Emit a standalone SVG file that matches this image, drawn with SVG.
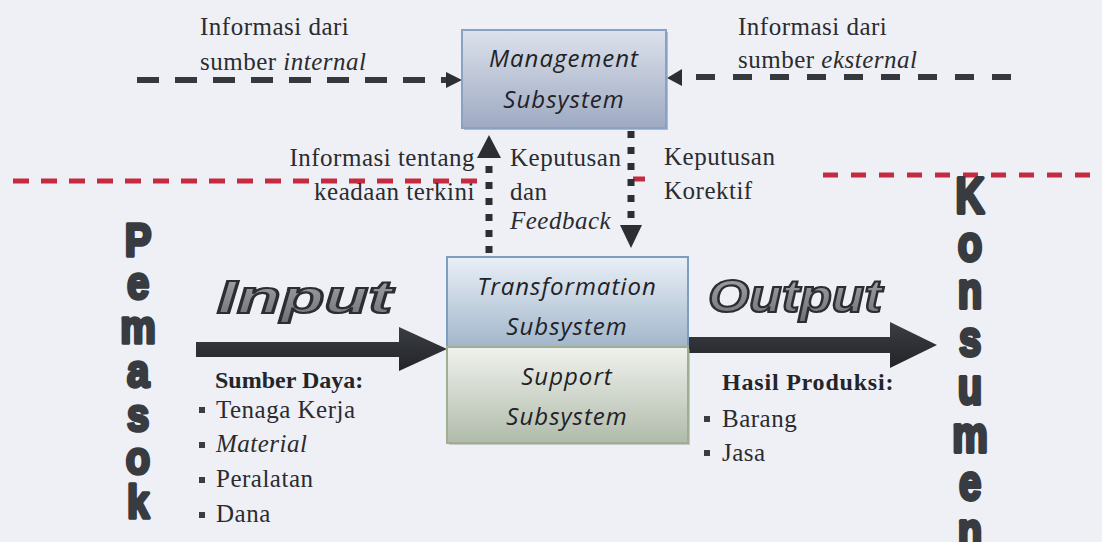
<svg xmlns="http://www.w3.org/2000/svg" width="1102" height="542" viewBox="0 0 1102 542">
  <defs>
    <linearGradient id="gMgmt" x1="0" y1="0" x2="0" y2="1">
      <stop offset="0" stop-color="#dce1ec"/>
      <stop offset="1" stop-color="#9eaac2"/>
    </linearGradient>
    <linearGradient id="gTrans" x1="0" y1="0" x2="0" y2="1">
      <stop offset="0" stop-color="#e9f0f7"/>
      <stop offset="1" stop-color="#a2b6ca"/>
    </linearGradient>
    <linearGradient id="gSupp" x1="0" y1="0" x2="0" y2="1">
      <stop offset="0" stop-color="#f0f2ed"/>
      <stop offset="1" stop-color="#b0bbab"/>
    </linearGradient>
    <linearGradient id="gWord" x1="0" y1="0" x2="0" y2="1">
      <stop offset="0" stop-color="#a4a7ac"/>
      <stop offset="1" stop-color="#6e7176"/>
    </linearGradient>
    <linearGradient id="gBig" x1="0" y1="0" x2="0" y2="1">
      <stop offset="0" stop-color="#3a3d42"/>
      <stop offset="1" stop-color="#222428"/>
    </linearGradient>
  </defs>
  <style>
    .lbl { font-family: "Liberation Serif", "Times New Roman", "DejaVu Serif", serif; font-size: 25px; letter-spacing: 0.5px; fill: #2a2c30; }
    .hd { font-family: "Liberation Serif", "Times New Roman", "DejaVu Serif", serif; font-size: 24px; font-weight: bold; fill: #23252a; }
    .it { font-style: italic; }
    .box { font-family: "Open Sans", "Liberation Sans", sans-serif; font-style: italic; font-size: 24px; letter-spacing: 1px; fill: #1f2227; text-anchor: middle; }
    .word { font-family: "Liberation Sans", "DejaVu Sans", sans-serif; font-weight: bold; font-style: italic; font-size: 46px; fill: url(#gWord); stroke: #2b2d31; stroke-width: 2.2; }
    .vert { font-family: "Liberation Sans", "DejaVu Sans", sans-serif; font-weight: bold; font-size: 40px; fill: #383b40; stroke: #383b40; stroke-width: 3; stroke-linejoin: round; writing-mode: vertical-rl; text-orientation: upright; }
    .dash { fill: none; stroke: #35383c; stroke-width: 6; }
    .red { fill: none; stroke: #c42a40; stroke-width: 5; }
    .dot { fill: none; stroke: #2c2e32; stroke-width: 7; stroke-dasharray: 7 9; }
    .head { fill: #2c2e32; }
    .bul { fill: #3a3c40; }
  </style>

  <!-- page -->
  <rect x="0" y="0" width="1102" height="542" fill="#eef0f6"/>

  <!-- boundary lines between environment and organisation -->
  <g id="boundaries">
    <line class="red" x1="13" y1="181" x2="478" y2="181" stroke-dasharray="16 12"/>
    <line class="red" x1="633" y1="179" x2="645" y2="179"/>
    <line class="red" x1="823" y1="175" x2="1090" y2="175" stroke-dasharray="15 13"/>
  </g>

  <!-- connectors -->
  <g id="connectors">
    <!-- internal information into management -->
    <line class="dash" x1="137" y1="80" x2="447" y2="80" stroke-dasharray="22 16"/>
    <polygon class="head" points="446,72 462,80 446,88"/>
    <!-- external information into management -->
    <line class="dash" x1="1011" y1="77" x2="683" y2="77" stroke-dasharray="19 18"/>
    <polygon class="head" points="682,69 667,78 682,86"/>
    <!-- status information / feedback upward -->
    <line class="dot" x1="489" y1="253" x2="489" y2="160"/>
    <polygon class="head" points="477,158 501,158 489,135"/>
    <!-- corrective decisions downward -->
    <line class="dot" x1="631" y1="131" x2="631" y2="226"/>
    <polygon class="head" points="620,225 642,225 631,248"/>
    <!-- input arrow -->
    <polygon fill="url(#gBig)" points="196,342 399,342 399,327 447,349 399,371 399,357 196,357"/>
    <!-- output arrow -->
    <polygon fill="url(#gBig)" points="688,337 890,337 890,322 937,345 890,368 890,353 688,353"/>
  </g>

  <!-- management subsystem -->
  <g id="management">
    <rect x="464" y="32" width="204" height="98" fill="#8f96a6" opacity="0.6"/>
    <rect x="462" y="30" width="204" height="98" fill="url(#gMgmt)" stroke="#8aa1c6" stroke-width="2"/>
    <text class="box" x="564" y="67">Management</text>
    <text class="box" x="564" y="108">Subsystem</text>
  </g>

  <!-- transformation subsystem -->
  <g id="transformation">
    <rect x="447" y="257" width="241" height="90" fill="url(#gTrans)" stroke="#7f9dc0" stroke-width="2"/>
    <text class="box" x="567" y="295">Transformation</text>
    <text class="box" x="567" y="335">Subsystem</text>
  </g>

  <!-- support subsystem -->
  <g id="support">
    <rect x="449" y="349" width="241" height="96" fill="#9aa296" opacity="0.5"/>
    <rect x="447" y="347" width="241" height="96" fill="url(#gSupp)" stroke="#9fad93" stroke-width="2"/>
    <text class="box" x="567" y="385">Support</text>
    <text class="box" x="567" y="425">Subsystem</text>
  </g>

  <!-- information sources -->
  <g id="internal-info">
    <text class="lbl" x="200" y="35">Informasi dari</text>
    <text class="lbl" x="200" y="70">sumber <tspan class="it">internal</tspan></text>
  </g>
  <g id="external-info">
    <text class="lbl" x="738" y="35">Informasi dari</text>
    <text class="lbl" x="738" y="68">sumber <tspan class="it">eksternal</tspan></text>
  </g>

  <!-- labels on the vertical flows -->
  <g id="status-label">
    <text class="lbl" x="475" y="166" text-anchor="end">Informasi tentang</text>
    <text class="lbl" x="475" y="200" text-anchor="end">keadaan terkini</text>
  </g>
  <g id="feedback-label">
    <text class="lbl" x="510" y="166">Keputusan</text>
    <text class="lbl" x="510" y="200">dan</text>
    <text class="lbl it" x="510" y="229">Feedback</text>
  </g>
  <g id="corrective-label">
    <text class="lbl" x="664" y="165">Keputusan</text>
    <text class="lbl" x="664" y="199">Korektif</text>
  </g>

  <!-- input side -->
  <g id="input">
    <text class="word" x="217" y="313" textLength="175" lengthAdjust="spacingAndGlyphs">Input</text>
    <text class="hd" x="215" y="388">Sumber Daya:</text>
    <rect class="bul" x="199" y="407" width="6" height="6"/>
    <text class="lbl" x="216" y="418">Tenaga Kerja</text>
    <rect class="bul" x="199" y="442" width="6" height="6"/>
    <text class="lbl it" x="216" y="452">Material</text>
    <rect class="bul" x="199" y="477" width="6" height="6"/>
    <text class="lbl" x="216" y="487">Peralatan</text>
    <rect class="bul" x="199" y="512" width="6" height="6"/>
    <text class="lbl" x="216" y="522">Dana</text>
  </g>

  <!-- output side -->
  <g id="output">
    <text class="word" x="708" y="312" textLength="174" lengthAdjust="spacingAndGlyphs">Output</text>
    <text class="hd" x="722" y="390" letter-spacing="0.8">Hasil Produksi:</text>
    <rect class="bul" x="704" y="416" width="6" height="6"/>
    <text class="lbl" x="722" y="427">Barang</text>
    <rect class="bul" x="704" y="450" width="6" height="6"/>
    <text class="lbl" x="722" y="461">Jasa</text>
  </g>

  <!-- supplier column, letters stacked upright -->
  <g id="pemasok">
    <g transform="translate(138,0) scale(1,1.15)">
      <text class="vert" x="0" y="186" letter-spacing="-6.5">Pemasok</text>
    </g>
  </g>

  <!-- consumer column, letters stacked upright; runs past the bottom edge -->
  <g id="konsumen">
    <g transform="translate(970,0) scale(1,1.25)">
      <text class="vert" x="0" y="134" letter-spacing="-6.8">Konsumen</text>
    </g>
  </g>
</svg>
